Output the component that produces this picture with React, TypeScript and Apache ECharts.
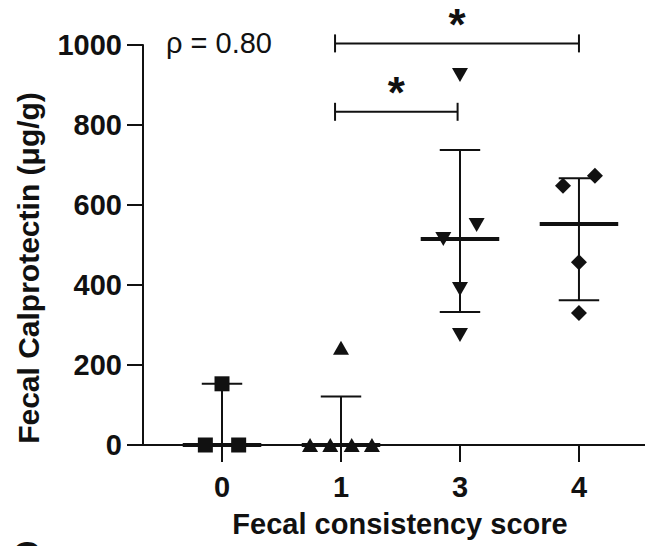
import React, { useEffect, useRef } from "react";
import * as echarts from "echarts";

const scoreLabels = ["0", "1", "3", "4"];
const score0Values = [0, 153, 0];
const score0Jitter = [-0.14, 0, 0.14];
const score1Values = [0, 0, 243, 0, 0];
const score1Jitter = [-0.26, -0.09, 0, 0.09, 0.26];
const score3Values = [925, 515, 550, 390, 275];
const score3Jitter = [0, -0.14, 0.14, 0, 0];
const score4Values = [648, 673, 457, 330];
const score4Jitter = [-0.134, 0.134, 0, 0];
const yTicks = [0, 200, 400, 600, 800, 1000];
const bracketStart = [0.95, 0.95];
const bracketEnd = [3.0, 1.98];
const bracketLevel = [1004, 833];
const bracketMark = ["*", "*"];
const rhoText = "ρ = 0.80";
const yTitle = "Fecal Calprotectin (μg/g)";
const xTitle = "Fecal consistency score";

const groups = [
  { values: score0Values, jitter: score0Jitter, symbol: "rect", rotate: 0, size: [15, 15] },
  { values: score1Values, jitter: score1Jitter, symbol: "triangle", rotate: 0, size: [16, 14] },
  { values: score3Values, jitter: score3Jitter, symbol: "triangle", rotate: 180, size: [16, 14] },
  { values: score4Values, jitter: score4Jitter, symbol: "diamond", rotate: 0, size: [16, 16] },
];

function quantile(vals: number[], p: number) {
  const s = [...vals].sort((a, b) => a - b);
  const n = s.length;
  const pos = p * (n + 1);
  if (pos <= 1) return s[0];
  if (pos >= n) return s[n - 1];
  const lo = Math.floor(pos);
  const frac = pos - lo;
  return s[lo - 1] + frac * (s[lo] - s[lo - 1]);
}

const FONT = "'Liberation Sans', Arial, Helvetica, sans-serif";
const INK = "#111";

export default function App() {
  const ref = useRef<HTMLDivElement>(null);
  useEffect(() => {
    if (!ref.current) return;
    const chart = echarts.init(ref.current, null, { renderer: "svg" });

    const statData = groups.map((g, i) => [
      i,
      quantile(g.values, 0.5),
      quantile(g.values, 0.25),
      quantile(g.values, 0.75),
    ]);
    const bracketData = bracketStart.map((s, i) => [s, bracketEnd[i], bracketLevel[i]]);

    const scatterSeries = groups.map((g, gi) => ({
      type: "scatter",
      symbol: g.symbol,
      symbolSize: g.size,
      symbolRotate: g.rotate,
      itemStyle: { color: INK, opacity: 1 },
      z: 5,
      data: g.values.map((v, k) => [gi + g.jitter[k], v]),
    }));

    const option: any = {
      animation: false,
      backgroundColor: "#fff",
      textStyle: { fontFamily: FONT },
      grid: { left: 143, right: 0, top: 45, bottom: 101, containLabel: false, outerBoundsMode: "none" },
      xAxis: {
        type: "value",
        min: -0.664,
        max: 3.555,
        splitLine: { show: false },
        axisLine: { show: true, onZero: false, lineStyle: { color: INK, width: 2 } },
        axisTick: { show: true, customValues: [0, 1, 2, 3], length: 17, lineStyle: { color: INK, width: 2 } },
        axisLabel: {
          customValues: [0, 1, 2, 3],
          formatter: (v: number) => scoreLabels[Math.round(v)] ?? "",
          color: INK,
          fontSize: 29,
          fontWeight: "bold",
          fontFamily: FONT,
          margin: 27,
        },
      },
      yAxis: {
        type: "value",
        min: 0,
        max: 1000,
        interval: 200,
        splitLine: { show: false },
        axisLine: { show: true, onZero: false, lineStyle: { color: INK, width: 2 } },
        axisTick: { show: true, length: 16, lineStyle: { color: INK, width: 2 } },
        axisLabel: {
          color: INK,
          fontSize: 29,
          fontWeight: "bold",
          fontFamily: FONT,
          margin: 21,
          formatter: (v: number) => (yTicks.includes(v) ? String(v) : ""),
        },
      },
      graphic: [
        {
          type: "text",
          left: 166,
          top: 28,
          style: { text: rhoText, fill: INK, fontSize: 29, fontFamily: FONT },
        },
        {
          type: "text",
          x: 28,
          y: 268,
          rotation: Math.PI / 2,
          style: {
            text: yTitle,
            fill: INK,
            fontSize: 30,
            fontWeight: "bold",
            fontFamily: FONT,
            align: "center",
            verticalAlign: "middle",
          },
        },
        {
          type: "text",
          x: 400,
          y: 524,
          style: {
            text: xTitle,
            fill: INK,
            fontSize: 29,
            fontWeight: "bold",
            fontFamily: FONT,
            align: "center",
            verticalAlign: "middle",
          },
        },
        {
          type: "text",
          left: 12,
          top: 536,
          style: { text: "C", fill: INK, fontSize: 40, fontWeight: "bold", fontFamily: FONT },
        },
      ],
      series: [
        {
          type: "custom",
          z: 3,
          data: statData,
          renderItem: (params: any, api: any) => {
            const x = api.value(0);
            const med = api.value(1);
            const q1 = api.value(2);
            const q3 = api.value(3);
            const pMed = api.coord([x, med]);
            const pQ1 = api.coord([x, q1]);
            const pQ3 = api.coord([x, q3]);
            const hw = api.size([0.33, 0])[0];
            const cw = api.size([0.17, 0])[0];
            const st = { stroke: INK, lineWidth: 2 };
            return {
              type: "group",
              children: [
                { type: "line", shape: { x1: pMed[0], y1: pQ1[1], x2: pMed[0], y2: pQ3[1] }, style: st },
                { type: "line", shape: { x1: pMed[0] - cw, y1: pQ1[1], x2: pMed[0] + cw, y2: pQ1[1] }, style: st },
                { type: "line", shape: { x1: pMed[0] - cw, y1: pQ3[1], x2: pMed[0] + cw, y2: pQ3[1] }, style: st },
                { type: "line", shape: { x1: pMed[0] - hw, y1: pMed[1], x2: pMed[0] + hw, y2: pMed[1] }, style: { stroke: INK, lineWidth: 4 } },
              ],
            };
          },
        },
        ...scatterSeries,
        {
          type: "custom",
          z: 4,
          clip: false,
          data: bracketData,
          renderItem: (params: any, api: any) => {
            const a = api.coord([api.value(0), api.value(2)]);
            const b = api.coord([api.value(1), api.value(2)]);
            const st = { stroke: INK, lineWidth: 2 };
            return {
              type: "group",
              children: [
                { type: "line", shape: { x1: a[0], y1: a[1], x2: b[0], y2: b[1] }, style: st },
                { type: "line", shape: { x1: a[0], y1: a[1] - 9, x2: a[0], y2: a[1] + 9 }, style: st },
                { type: "line", shape: { x1: b[0], y1: b[1] - 9, x2: b[0], y2: b[1] + 9 }, style: st },
                {
                  type: "text",
                  x: (a[0] + b[0]) / 2,
                  y: a[1] - 19,
                  style: {
                    text: bracketMark[params.dataIndex],
                    fill: INK,
                    fontSize: 44,
                    fontWeight: "bold",
                    fontFamily: FONT,
                    align: "center",
                    verticalAlign: "middle",
                  },
                },
              ],
            };
          },
        },
      ],
    };
    chart.setOption(option);
    return () => chart.dispose();
  }, []);
  return (
    <div
      ref={ref}
      style={{ position: "fixed", left: 0, top: 0, width: 645, height: 546, background: "#fff" }}
    />
  );
}
